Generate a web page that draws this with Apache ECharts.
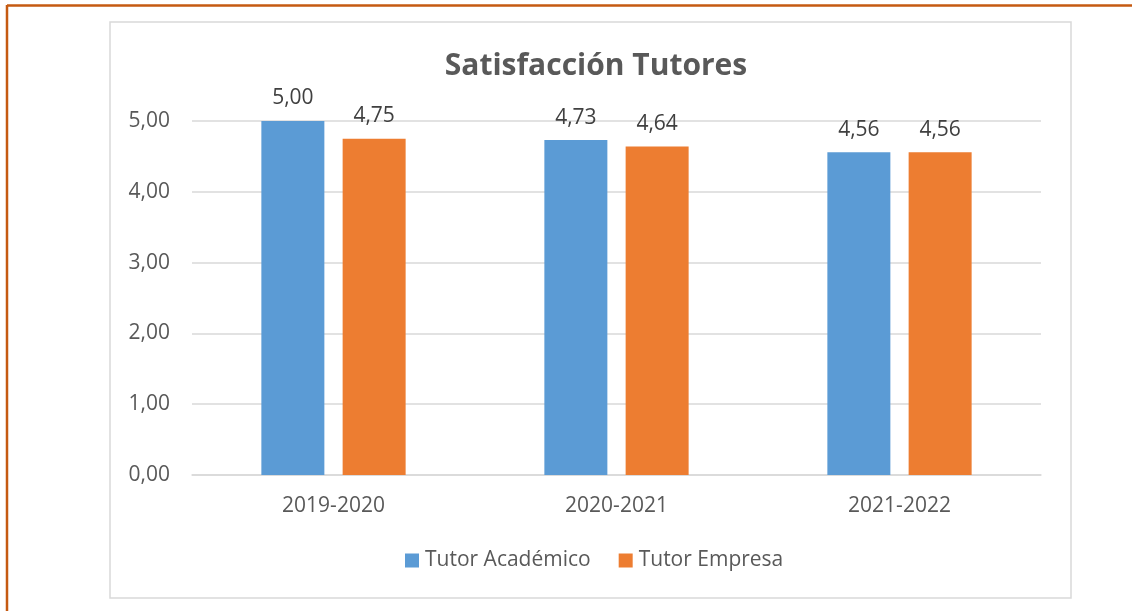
<!DOCTYPE html>
<html>
<head>
<meta charset="utf-8">
<script src="https://cdn.jsdelivr.net/npm/echarts@6/dist/echarts.min.js"></script>
<style>
  html, body { margin: 0; padding: 0; background: #fff; }
  #chart { width: 1132px; height: 611px; }
</style>
</head>
<body>
<div id="chart"></div>
<script>
var years = ['2019-2020', '2020-2021', '2021-2022'];
var tutorAcademico = [5.00, 4.73, 4.56];
var tutorEmpresa = [4.75, 4.64, 4.56];
var yTicks = [0, 1, 2, 3, 4, 5];

function coma(v) {
    return Number(v).toFixed(2).replace('.', ',');
}

var font = '"Open Sans", sans-serif';
var gris = '#595959';

var myChart = echarts.init(document.getElementById('chart'));
var option = {
    animation: false,
    textStyle: { fontFamily: font },
    title: {
        text: 'Satisfacción Tutores',
        left: 591,
        textAlign: 'center',
        top: 46,
        textStyle: { fontSize: 30, fontWeight: 'bold', color: gris, fontFamily: font }
    },
    legend: {
        data: ['Tutor Académico', 'Tutor Empresa'],
        left: 400,
        top: 545,
        itemWidth: 14,
        itemHeight: 14,
        itemGap: 28,
        icon: 'rect',
        textStyle: { fontSize: 21, color: gris, fontFamily: font, padding: [0, 0, 0, 1] }
    },
    grid: { left: 192, right: 91, top: 121, bottom: 136 },
    xAxis: {
        type: 'category',
        data: years,
        axisTick: { show: false },
        axisLine: { lineStyle: { color: '#d9d9d9', width: 1.5 } },
        axisLabel: { fontSize: 21, color: gris, margin: 21, fontFamily: font }
    },
    yAxis: {
        type: 'value',
        min: yTicks[0],
        max: yTicks[yTicks.length - 1],
        interval: 1,
        axisLine: { show: false },
        axisTick: { show: false },
        splitLine: { lineStyle: { color: '#d9d9d9', width: 1.5 } },
        axisLabel: { fontSize: 21, color: gris, margin: 22, formatter: coma, fontFamily: font }
    },
    series: [
        {
            name: 'Tutor Académico',
            type: 'bar',
            data: tutorAcademico,
            barWidth: 63,
            barGap: '29%',
            itemStyle: { color: '#5B9BD5' },
            label: { show: true, position: 'top', distance: 12, fontSize: 21, color: '#404040', formatter: function (p) { return coma(p.value); } }
        },
        {
            name: 'Tutor Empresa',
            type: 'bar',
            data: tutorEmpresa,
            barWidth: 63,
            itemStyle: { color: '#ED7D31' },
            label: { show: true, position: 'top', distance: 12, fontSize: 21, color: '#404040', formatter: function (p) { return coma(p.value); } }
        }
    ],
    graphic: [
        { type: 'rect', shape: { x: 110, y: 22, width: 961, height: 576 }, style: { fill: 'none', stroke: '#d9d9d9', lineWidth: 1.5 }, silent: true, z: -1 },
        { type: 'line', shape: { x1: 7, y1: 5.5, x2: 1132, y2: 5.5 }, style: { stroke: '#C55A11', lineWidth: 2.5 }, silent: true },
        { type: 'line', shape: { x1: 7, y1: 5, x2: 7, y2: 611 }, style: { stroke: '#C55A11', lineWidth: 2.5 }, silent: true }
    ]
};
myChart.setOption(option);
</script>
</body>
</html>
